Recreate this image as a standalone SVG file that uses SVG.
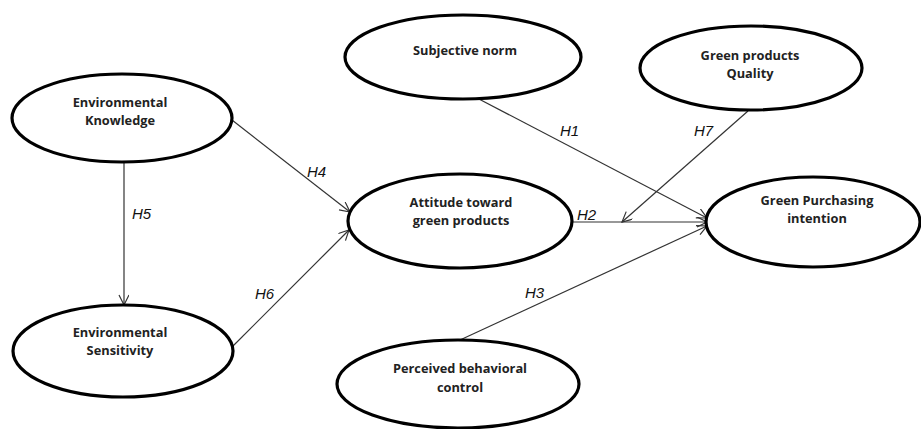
<svg xmlns="http://www.w3.org/2000/svg" width="921" height="429" viewBox="0 0 921 429">
<style>
.node ellipse{fill:#fff;stroke:#000;stroke-width:3.2}
.lbl{font-family:"Open Sans","Liberation Sans",sans-serif;font-weight:bold;font-size:12.8px;fill:#222;text-anchor:middle}
.edge line{stroke:#333;stroke-width:1.2;fill:none}
.h{font-family:"Liberation Sans",Arial,sans-serif;font-style:italic;font-size:15px;fill:#111}
</style>
<defs>
<marker id="arr" markerUnits="userSpaceOnUse" markerWidth="14" markerHeight="12" refX="11" refY="5" orient="auto">
<path d="M1,0 L11,5 L1,10" fill="none" stroke="#333" stroke-width="1.2"/>
</marker>
</defs>
<rect width="921" height="429" fill="#fff"/>
<g id="connectors" class="edge">
<line x1="124" y1="163" x2="124" y2="305" marker-end="url(#arr)"/>
<line x1="232" y1="120" x2="350" y2="212" marker-end="url(#arr)"/>
<line x1="232" y1="347" x2="349" y2="230" marker-end="url(#arr)"/>
<line x1="572" y1="222" x2="707" y2="222" marker-end="url(#arr)"/>
<line x1="748" y1="111" x2="622" y2="222" marker-end="url(#arr)"/>
<line x1="477" y1="98" x2="707" y2="218" marker-end="url(#arr)"/>
<line x1="460" y1="340" x2="707" y2="226" marker-end="url(#arr)"/>
</g>
<g id="hlabels">
<text class="h" x="307" y="177">H4</text>
<text class="h" x="132" y="219">H5</text>
<text class="h" x="255" y="299">H6</text>
<text class="h" x="560" y="136">H1</text>
<text class="h" x="694" y="136">H7</text>
<text class="h" x="577" y="220">H2</text>
<text class="h" x="525" y="298">H3</text>
</g>
<g id="env-knowledge" class="node">
<ellipse cx="122" cy="118" rx="110" ry="44"/>
<text class="lbl" x="120" y="107">Environmental</text>
<text class="lbl" x="120" y="125">Knowledge</text>
</g>
<g id="env-sensitivity" class="node">
<ellipse cx="123" cy="351" rx="110" ry="46"/>
<text class="lbl" x="120" y="337">Environmental</text>
<text class="lbl" x="120" y="355">Sensitivity</text>
</g>
<g id="attitude" class="node">
<ellipse cx="460" cy="221" rx="112" ry="47"/>
<text class="lbl" x="461" y="207">Attitude toward</text>
<text class="lbl" x="461" y="225">green products</text>
</g>
<g id="subjective-norm" class="node">
<ellipse cx="463" cy="57" rx="118" ry="42"/>
<text class="lbl" x="465" y="55">Subjective norm</text>
</g>
<g id="gp-quality" class="node">
<ellipse cx="751" cy="68" rx="111" ry="42"/>
<text class="lbl" x="750" y="60">Green products</text>
<text class="lbl" x="750" y="78">Quality</text>
</g>
<g id="gp-intention" class="node">
<ellipse cx="813" cy="222" rx="107" ry="45"/>
<text class="lbl" x="817" y="205">Green Purchasing</text>
<text class="lbl" x="817" y="223">intention</text>
</g>
<g id="pbc" class="node">
<ellipse cx="458" cy="384" rx="121" ry="44"/>
<text class="lbl" x="460" y="373">Perceived behavioral</text>
<text class="lbl" x="460" y="392">control</text>
</g>
</svg>
